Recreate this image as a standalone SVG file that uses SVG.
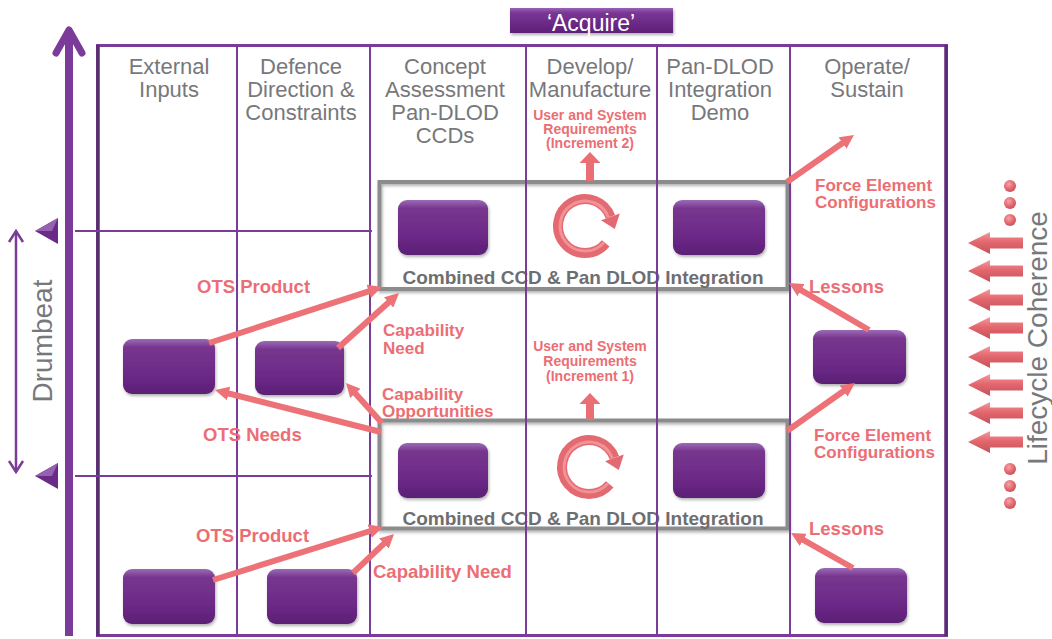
<svg xmlns="http://www.w3.org/2000/svg" width="1052" height="639" viewBox="0 0 1052 639">
<defs>
  <linearGradient id="pg" x1="0" y1="0" x2="0" y2="1">
    <stop offset="0" stop-color="#9b6bb6"/>
    <stop offset="0.15" stop-color="#78368f"/>
    <stop offset="0.7" stop-color="#6b2886"/>
    <stop offset="1" stop-color="#5a1f74"/>
  </linearGradient>
  <linearGradient id="aq" x1="0" y1="0" x2="0" y2="1">
    <stop offset="0" stop-color="#9a62b5"/>
    <stop offset="0.2" stop-color="#7a3596"/>
    <stop offset="1" stop-color="#5e1f78"/>
  </linearGradient>
  <linearGradient id="rg" x1="0" y1="0" x2="0" y2="1">
    <stop offset="0" stop-color="#f39a9e"/>
    <stop offset="0.45" stop-color="#e4676e"/>
    <stop offset="1" stop-color="#c4525a"/>
  </linearGradient>
  <radialGradient id="dg" cx="0.4" cy="0.35" r="0.7">
    <stop offset="0" stop-color="#f6a3a7"/>
    <stop offset="0.6" stop-color="#e3676e"/>
    <stop offset="1" stop-color="#c24f57"/>
  </radialGradient>
  <filter id="sh" x="-20%" y="-20%" width="140%" height="150%">
    <feDropShadow dx="1" dy="2" stdDeviation="1.5" flood-color="#000" flood-opacity="0.3"/>
  </filter>
  <marker id="ah" viewBox="0 0 14 14" markerWidth="14" markerHeight="14" markerUnits="userSpaceOnUse" refX="4" refY="7" orient="auto">
    <path d="M0,0 L14,7 L0,14 Z" fill="#ec7278"/>
  </marker>
  <path id="la" d="M0,0 L22,-11 L22,-5.5 L55,-5.5 L55,5.5 L22,5.5 L22,11 Z" fill="url(#rg)"/>
  <g id="cyc">
    <path d="M20.7,17.4 A27,27 0 1 1 25.4,-9.2" fill="none" stroke="#e46a71" stroke-width="10"/>
    <path d="M19.2,16.1 A25,25 0 1 1 23.5,-8.6" fill="none" stroke="#f09296" stroke-width="3"/>
    <path d="M29.8,3 L34.8,-12.6 L16,-5.8 Z" fill="#e46a71"/>
  </g>
  <style>
    .hd{font-family:"Liberation Sans",Arial,sans-serif;font-size:22px;fill:#77787b;text-anchor:middle}
    .lb{font-family:"Liberation Sans",Arial,sans-serif;font-weight:bold;fill:#eb6e74}
    .s17{font-size:17px}
    .s18{font-size:18.5px}
    .s14{font-size:14px;text-anchor:middle}
    .cb{font-family:"Liberation Sans",Arial,sans-serif;font-weight:bold;font-size:19px;fill:#6d6e71;text-anchor:middle}
    .rot{font-family:"Liberation Sans",Arial,sans-serif;font-size:28px;fill:#77787b;text-anchor:middle}
    .nd{fill:url(#pg);filter:url(#sh)}
    .dv{stroke:#7b3b98;stroke-width:2;fill:none}
    .fr{fill:none;stroke:#8b8c8e;stroke-width:4;filter:url(#sh)}
    .pa{stroke:#ec7278;stroke-width:6;fill:none;marker-end:url(#ah)}
    .dot{fill:url(#dg)}
  </style>
</defs>

<!-- background -->
<rect width="1052" height="639" fill="#ffffff"/>

<!-- Acquire banner -->
<g id="acquire">
  <rect x="510" y="8" width="163" height="25" fill="url(#aq)" filter="url(#sh)"/>
  <text x="591" y="31" font-family="Liberation Sans, Arial, sans-serif" font-size="23" fill="#ffffff" text-anchor="middle">‘Acquire’</text>
</g>

<!-- main frame -->
<g id="frame">
  <rect x="97.5" y="45.5" width="849" height="590" fill="none" stroke="#7b3b98" stroke-width="3"/>
  <line x1="98" y1="45" x2="98" y2="636" stroke="#56306c" stroke-width="3.5"/>
  <line x1="946" y1="45" x2="946" y2="636" stroke="#5c2b7a" stroke-width="3.5"/>
  <line x1="75" y1="231" x2="372" y2="231" class="dv"/>
  <line x1="75" y1="476" x2="372" y2="476" class="dv"/>
</g>

<!-- time axis and drumbeat -->
<g id="axis">
  <line x1="69" y1="636" x2="69" y2="32" stroke="#7b3b98" stroke-width="8"/>
  <polyline points="56,53 69,30 82,53" fill="none" stroke="#7b3b98" stroke-width="7" stroke-linecap="round" stroke-linejoin="round"/>
  <path d="M35,231 L58,218 L58,244 Z" fill="#6b2a87"/>
  <path d="M35,231 L58,218 L52,231 Z" fill="#9462ae"/>
  <path d="M35,476 L58,463 L58,489 Z" fill="#6b2a87"/>
  <path d="M35,476 L58,463 L52,476 Z" fill="#9462ae"/>
  <line x1="16" y1="231" x2="16" y2="472" stroke="#7b3b98" stroke-width="2.5"/>
  <polyline points="9,242 16,231 23,242" fill="none" stroke="#7b3b98" stroke-width="2.5"/>
  <polyline points="9,461 16,472 23,461" fill="none" stroke="#7b3b98" stroke-width="2.5"/>
  <text class="rot" transform="translate(52,341) rotate(-90)">Drumbeat</text>
</g>

<!-- combined integration boxes -->
<g id="combined1">
  <rect x="379.5" y="182" width="408" height="107" class="fr"/>
  <rect x="398" y="200" width="90" height="55" rx="9" class="nd"/>
  <rect x="673" y="200" width="92" height="55" rx="9" class="nd"/>
  <use href="#cyc" x="585" y="226"/>
  <text x="583" y="284" class="cb">Combined CCD &amp; Pan DLOD Integration</text>
</g>
<g id="combined2">
  <rect x="379.5" y="420.5" width="408" height="108" class="fr"/>
  <rect x="398" y="443" width="90" height="55" rx="9" class="nd"/>
  <rect x="673" y="443" width="92" height="55" rx="9" class="nd"/>
  <use href="#cyc" x="589" y="467"/>
  <text x="583" y="525" class="cb">Combined CCD &amp; Pan DLOD Integration</text>
</g>

<!-- column dividers -->
<g id="dividers">
  <line x1="237" y1="47" x2="237" y2="635" class="dv"/>
  <line x1="370" y1="47" x2="370" y2="635" class="dv"/>
  <line x1="526" y1="47" x2="526" y2="635" class="dv"/>
  <line x1="657" y1="47" x2="657" y2="635" class="dv"/>
  <line x1="790" y1="47" x2="790" y2="635" class="dv"/>
</g>

<!-- column headers -->
<g id="headers">
  <text class="hd" x="169" y="74">External</text>
  <text class="hd" x="169" y="97">Inputs</text>
  <text class="hd" x="301" y="74">Defence</text>
  <text class="hd" x="301" y="97">Direction &amp;</text>
  <text class="hd" x="301" y="120">Constraints</text>
  <text class="hd" x="445" y="74">Concept</text>
  <text class="hd" x="445" y="97">Assessment</text>
  <text class="hd" x="445" y="120">Pan-DLOD</text>
  <text class="hd" x="445" y="143">CCDs</text>
  <text class="hd" x="590" y="74">Develop/</text>
  <text class="hd" x="590" y="97">Manufacture</text>
  <text class="hd" x="720" y="74">Pan-DLOD</text>
  <text class="hd" x="720" y="97">Integration</text>
  <text class="hd" x="720" y="120">Demo</text>
  <text class="hd" x="867" y="74">Operate/</text>
  <text class="hd" x="867" y="97">Sustain</text>
</g>

<!-- nodes -->
<g id="ext-mid"><rect x="123" y="339" width="92" height="55" rx="9" class="nd"/></g>
<g id="def-mid"><rect x="255" y="341" width="89" height="54" rx="9" class="nd"/></g>
<g id="ext-bot"><rect x="123" y="569" width="92" height="55" rx="9" class="nd"/></g>
<g id="def-bot"><rect x="267" y="569" width="90" height="55" rx="9" class="nd"/></g>
<g id="ops-mid"><rect x="813" y="330" width="93" height="54" rx="9" class="nd"/></g>
<g id="ops-bot"><rect x="815" y="568" width="92" height="55" rx="9" class="nd"/></g>

<!-- connectors -->
<g id="connectors">
  <path class="pa" d="M209,343 L372.5,290.1"/>
  <path class="pa" d="M338,348 L391.6,299.7"/>
  <path class="pa" d="M381,432 L224.7,392.5"/>
  <path class="pa" d="M382,423 L352.7,390.4"/>
  <path class="pa" d="M213,580 L373.5,530"/>
  <path class="pa" d="M353,573 L386.8,540.9"/>
  <path class="pa" d="M787,182 L845.8,140.8"/>
  <path class="pa" d="M869,330 L797.6,288.1"/>
  <path class="pa" d="M787,431 L846.8,388.8"/>
  <path class="pa" d="M853,568 L799.7,537.9"/>
  <path d="M586,181 L586,163 L579.5,163 L590,152 L600.5,163 L594,163 L594,181 Z" fill="#e96f75"/>
  <path d="M586,420 L586,404 L579.5,404 L590,393 L600.5,404 L594,404 L594,420 Z" fill="#e96f75"/>
</g>

<!-- labels -->
<g id="labels">
  <text class="lb s18" x="197" y="293">OTS Product</text>
  <text class="lb s17" x="383" y="336">Capability</text>
  <text class="lb s17" x="383" y="354">Need</text>
  <text class="lb s17" x="382" y="400">Capability</text>
  <text class="lb s17" x="382" y="417">Opportunities</text>
  <text class="lb s18" x="203" y="441">OTS Needs</text>
  <text class="lb s18" x="196" y="542">OTS Product</text>
  <text class="lb s18" x="373" y="578">Capability Need</text>
  <text class="lb s14" x="590" y="120">User and System</text>
  <text class="lb s14" x="590" y="134">Requirements</text>
  <text class="lb s14" x="590" y="148">(Increment 2)</text>
  <text class="lb s14" x="590" y="351">User and System</text>
  <text class="lb s14" x="590" y="366">Requirements</text>
  <text class="lb s14" x="590" y="381">(Increment 1)</text>
  <text class="lb s17" x="815" y="191">Force Element</text>
  <text class="lb s17" x="815" y="208">Configurations</text>
  <text class="lb s18" x="809" y="293">Lessons</text>
  <text class="lb s17" x="814" y="441">Force Element</text>
  <text class="lb s17" x="814" y="458">Configurations</text>
  <text class="lb s18" x="809" y="535">Lessons</text>
</g>

<!-- lifecycle coherence -->
<g id="lifecycle">
  <circle class="dot" cx="1010" cy="186" r="6"/>
  <circle class="dot" cx="1010" cy="203" r="6"/>
  <circle class="dot" cx="1010" cy="220" r="6"/>
  <use href="#la" x="968" y="243"/>
  <use href="#la" x="968" y="271"/>
  <use href="#la" x="968" y="300"/>
  <use href="#la" x="968" y="328"/>
  <use href="#la" x="968" y="357"/>
  <use href="#la" x="968" y="385"/>
  <use href="#la" x="968" y="413"/>
  <use href="#la" x="968" y="442"/>
  <circle class="dot" cx="1010" cy="469" r="6"/>
  <circle class="dot" cx="1010" cy="486" r="6"/>
  <circle class="dot" cx="1010" cy="503" r="6"/>
  <text class="rot" transform="translate(1047,338) rotate(-90)">Lifecycle Coherence</text>
</g>
</svg>
